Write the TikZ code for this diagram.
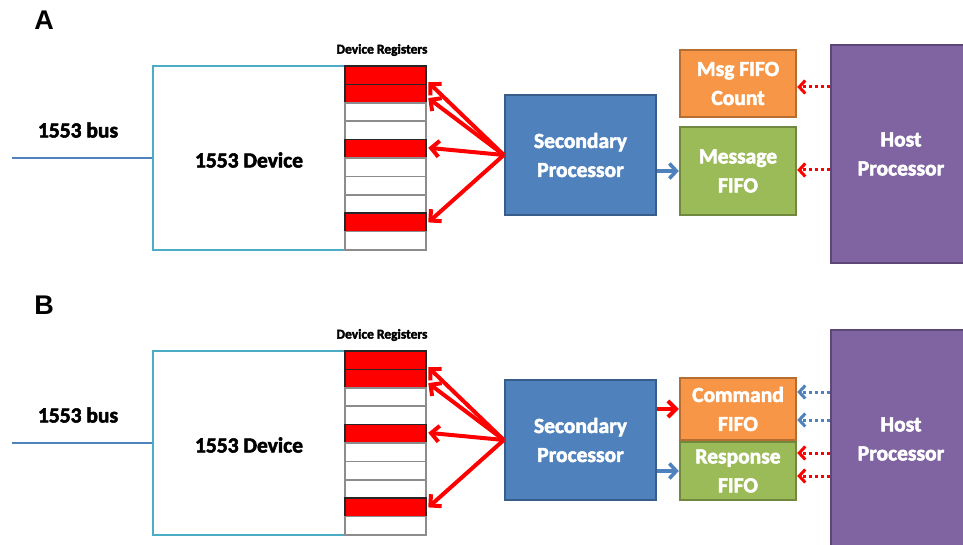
\documentclass[tikz,border=0pt]{standalone}
\usepackage{fontspec}
\setmainfont{Carlito}
\newfontfamily\heavy{Carlito}[UprightFont={* Bold}, FakeBold=2.5]
\newfontfamily\arialf{Liberation Sans}
\usetikzlibrary{arrows.meta,calc}
\definecolor{blueA}{HTML}{4F81BD}
\definecolor{blueB}{HTML}{385D8A}
\definecolor{cyanA}{HTML}{4BACC6}
\definecolor{orA}{HTML}{F79646}
\definecolor{orB}{HTML}{B66D31}
\definecolor{grA}{HTML}{9BBB59}
\definecolor{grB}{HTML}{71893F}
\definecolor{puA}{HTML}{8064A2}
\definecolor{puB}{HTML}{5C4776}
\tikzset{
  lbl/.style={font=\heavy\fontsize{21.5}{24}\selectfont, inner sep=0},
  devbox/.style={draw=cyanA, line width=2.4pt, minimum width=192pt, minimum height=184pt, inner sep=0},
  boxtxt/.style={text=white, font=\heavy\fontsize{21.5}{29}\selectfont, align=center, line width=2.4pt, inner sep=0},
  procbox/.style={boxtxt, fill=blueA, draw=blueB, minimum width=151pt, minimum height=120pt},
  orbox/.style={boxtxt, fill=orA, draw=orB, minimum width=116pt},
  grbox/.style={boxtxt, fill=grA, draw=grB, minimum width=116pt},
  hostbox/.style={boxtxt, fill=puA, draw=puB, minimum width=140pt, minimum height=218pt},
  reg/.style={draw=black!45, minimum width=81pt, minimum height=18.4pt, inner sep=0, line width=1.5pt, fill=white},
  redreg/.style={reg, fill=red, draw=black!85},
  redarr/.style={draw=red, line width=4pt, -{Straight Barb[length=8pt,width=16pt]}},
  bluearr/.style={draw=blueA, line width=3.6pt, -{Straight Barb[length=7pt,width=15pt]}},
  dotred/.style={draw=red, line width=3pt, dash pattern=on 3pt off 3pt, -{Straight Barb[length=6pt,width=13pt]}},
  dotblue/.style={draw=blueA, line width=3pt, dash pattern=on 3pt off 3pt, -{Straight Barb[length=6pt,width=13pt]}},
  busline/.style={draw=blueA, line width=2.4pt},
}
\newcommand\drawpanel[1]{%
  \node[font=\arialf\bfseries\fontsize{27}{29}\selectfont, inner sep=0] (lett) at (44,20) {#1};
  \node[devbox] (dev) at (249,158) {};
  \node[lbl] (devlbl) at (249,160) {1553 Device};
  \coordinate (busL) at (12,158);
  \draw[busline] (busL) -- (dev.west);
  \node[lbl] (buslbl) at (78,130) {1553 bus};
  \node[font=\heavy\fontsize{13.5}{16}\selectfont, inner sep=0] (reglbl) at (382,50) {Device Registers};
  \foreach \i/\s in {1/redreg,2/redreg,3/reg,4/reg,5/redreg,6/reg,7/reg,8/reg,9/redreg,10/reg}
    \node[\s] (r\i) at (385.5,{75.2+18.4*(\i-1)}) {};
  \node[procbox] (sp) at (580.5,155) {Secondary\\Processor};
  \node[hostbox] (host) at (901,154) {Host\\Processor};
  \draw[redarr] (sp.west) -- ($(r1.east)+(1.5,7)$);
  \draw[redarr] (sp.west) -- ($(r2.east)+(1.5,4.5)$);
  \draw[redarr] (sp.west) -- ($(r5.east)+(1.5,-1)$);
  \draw[redarr] (sp.west) -- ($(r9.east)+(1.5,0)$);
}
\begin{document}
\begin{tikzpicture}[x=1pt,y=-1pt]
\useasboundingbox (0,0) rectangle (963,545);
\clip (0,0) rectangle (963,545);
\begin{scope}[name prefix=a-]
  \drawpanel{A}
  \node[orbox, minimum height=67pt] (msgc) at (738,83.5) {Msg FIFO\\Count};
  \node[grbox, minimum height=88pt] (msg) at (738,171) {Message\\FIFO};
  \draw[bluearr] (sp.east|-msg.west) -- (msg.west);
  \coordinate (d1) at ($(msgc.east)+(0,3.5)$);
  \coordinate (d2) at ($(msg.east)+(0,-1)$);
  \draw[dotred] (host.west|-d1) -- (d1);
  \draw[dotred] (host.west|-d2) -- (d2);
\end{scope}
\begin{scope}[yshift=-285pt, name prefix=b-]
  \drawpanel{B}
  \node[orbox, minimum height=62pt] (cmd) at (738,124) {Command\\FIFO};
  \node[grbox, minimum height=58pt] (resp) at (738,186) {Response\\FIFO};
  \draw[redarr] (sp.east|-cmd.west) -- (cmd.west);
  \draw[bluearr] (sp.east|-resp.west) -- (resp.west);
  \coordinate (e1) at ($(cmd.east)+(0,-17)$);
  \coordinate (e2) at ($(cmd.east)+(0,11)$);
  \coordinate (e3) at ($(resp.east)+(0,-18)$);
  \coordinate (e4) at ($(resp.east)+(0,5)$);
  \draw[dotblue] (host.west|-e1) -- (e1);
  \draw[dotblue] (host.west|-e2) -- (e2);
  \draw[dotred] (host.west|-e3) -- (e3);
  \draw[dotred] (host.west|-e4) -- (e4);
\end{scope}
\end{tikzpicture}
\end{document}
